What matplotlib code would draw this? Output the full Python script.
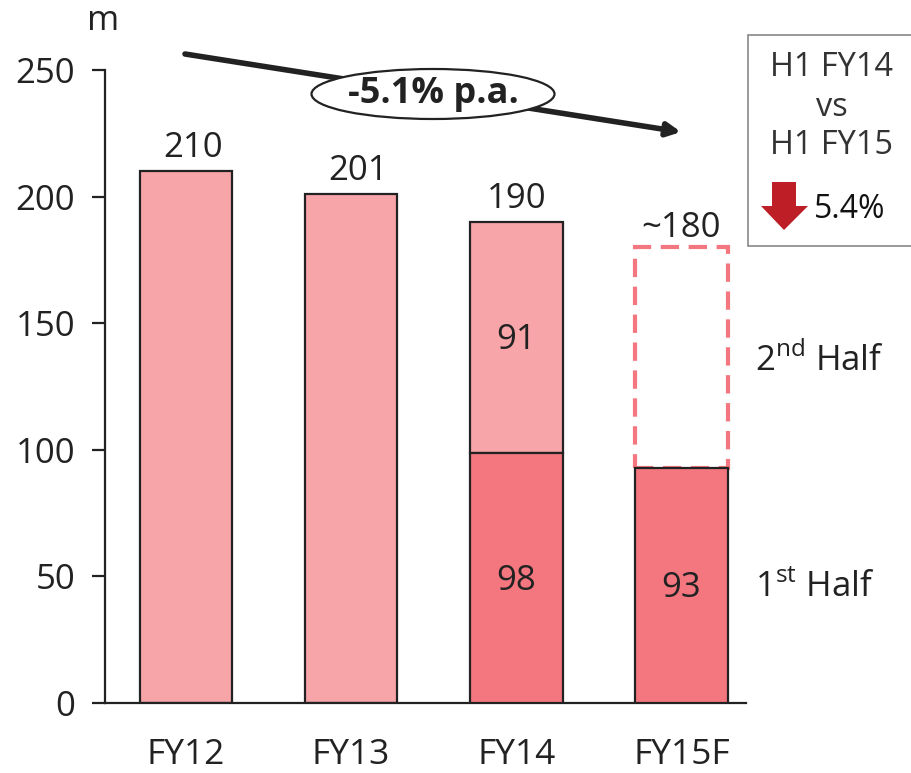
import matplotlib
matplotlib.use('Agg')
import matplotlib.pyplot as plt
from matplotlib.patches import Ellipse, Polygon, Rectangle

plt.rcParams['font.family'] = ['Open Sans', 'DejaVu Sans']
plt.rcParams['mathtext.fontset'] = 'custom'
plt.rcParams['mathtext.rm'] = 'Open Sans'

categories = ['FY12', 'FY13', 'FY14', 'FY15F']
first_half = [0, 0, 98.7, 93]
first_labels = ['', '', '98', '93']
second_labels = ['', '', '91', '']
totals = [210, 201, 190, 180]
total_labels = ['210', '201', '190', '~180']
yticks = [0, 50, 100, 150, 200, 250]

W, H = 911, 773
fig = plt.figure(figsize=(W/100, H/100), dpi=100)
ax = fig.add_axes([105/W, 1-703/H, (911-105)/W, (703-70)/H])
ax.set_xlim(-0.49, 4.39)
ax.set_ylim(0, 250)
light, dark = '#F8A5A9', '#F4767E'
ec = '#222222'
tc = '#222222'
w = 0.56
label_dx = [5, 5, 0, 0]
label_dy = [0, 0, 0, -3]
for i, c in enumerate(categories):
    if i < 3:
        ax.bar(i, totals[i]-first_half[i], w, bottom=first_half[i], color=light, edgecolor=ec, lw=1.6, zorder=2)
    if first_half[i]:
        ax.bar(i, first_half[i], w, color=dark, edgecolor=ec, lw=1.6, zorder=3)
        ax.annotate(first_labels[i], (i, first_half[i]/2), xytext=(0, -2), textcoords='offset points',
                    ha='center', va='center', fontsize=25, color=tc, zorder=4)
    if second_labels[i]:
        ax.annotate(second_labels[i], ((i), (first_half[i]+totals[i])/2), xytext=(0, -2), textcoords='offset points',
                    ha='center', va='center', fontsize=25, color=tc, zorder=4)
    ax.annotate(total_labels[i], (i, totals[i]), xytext=(label_dx[i], 4.5+label_dy[i]), textcoords='offset points',
                ha='center', va='bottom', fontsize=25, color=tc)
ax.bar(3, totals[3]-first_half[3], w, bottom=first_half[3], facecolor='none', edgecolor=dark, lw=3, ls=(0, (4.4, 2.3)), zorder=1)

for s in ['top', 'right']:
    ax.spines[s].set_visible(False)
ax.spines['left'].set_linewidth(1.6)
ax.spines['left'].set_color(ec)
ax.spines['bottom'].set_linewidth(1.6)
ax.spines['bottom'].set_color(ec)
ax.spines['bottom'].set_bounds(-0.49, 3.39)
ax.set_xticks(range(4), categories, fontsize=25.5, color=tc)
ax.set_yticks(yticks, [str(t) for t in yticks], fontsize=25, color=tc)
ax.tick_params(axis='x', length=0, pad=25)
ax.tick_params(axis='y', length=9.5, width=1.6, pad=12, direction='out', color=ec)

overlay = fig.add_axes([0, 0, 1, 1], facecolor='none')
overlay.set_xlim(0, W); overlay.set_ylim(H, 0); overlay.axis('off')
overlay.text(103, 21, 'm', ha='center', va='center', fontsize=25, color=tc)
overlay.annotate('', xy=(681, 132), xytext=(185, 54),
                 arrowprops=dict(arrowstyle='-|>,head_length=0.8,head_width=0.4', lw=4, color='#222222', shrinkA=0, shrinkB=0))
overlay.add_patch(Ellipse((433, 94), 243, 50, fc='white', ec=ec, lw=1.6, zorder=5))
overlay.text(433, 94, '-5.1% p.a.', ha='center', va='center', fontsize=26, fontweight='bold', color=tc, zorder=6)
overlay.add_patch(Rectangle((748, 35), 170, 211, fc='white', ec='#888888', lw=1.2, zorder=5))
for y, t in [(68, 'H1 FY14'), (108, 'vs'), (145, 'H1 FY15')]:
    overlay.text(832, y, t, ha='center', va='center', fontsize=23.4, color='#333333', zorder=6)
overlay.add_patch(Polygon([(772,182),(796,182),(796,206),(808,206),(784,230),(761,206),(772,206)], fc='#BE1E26', ec='none', zorder=6))
overlay.text(850, 209, '5.4%', ha='center', va='center', fontsize=23, color='#111111', zorder=6)
overlay.text(755, 361, r'2$^{\mathrm{nd}}$ Half', ha='left', va='center', fontsize=25, color=tc)
overlay.text(755, 588, r'1$^{\mathrm{st}}$ Half', ha='left', va='center', fontsize=25, color=tc)
fig.savefig('out.png', dpi=100)
